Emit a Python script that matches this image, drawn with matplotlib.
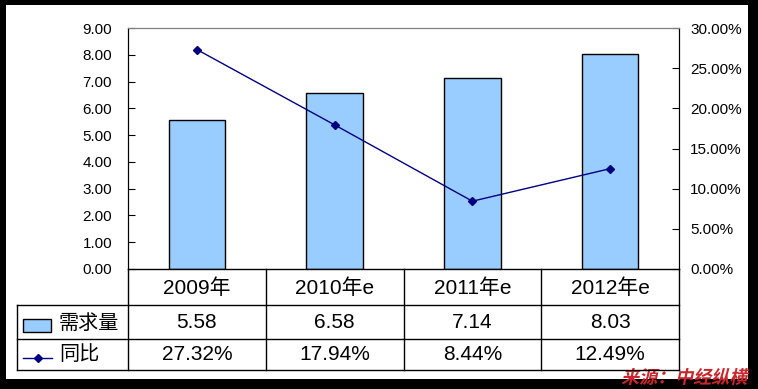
import matplotlib.pyplot as plt
from matplotlib.patches import Rectangle, PathPatch
from matplotlib.lines import Line2D
from matplotlib.textpath import TextPath
from matplotlib.font_manager import FontProperties
from matplotlib.transforms import blended_transform_factory, Affine2D

plt.rcParams['font.family'] = ['Liberation Sans', 'Noto Sans CJK SC']

# data
years = ['2009年', '2010年e', '2011年e', '2012年e']
demand = [5.58, 6.58, 7.14, 8.03]
growth = [27.32, 17.94, 8.44, 12.49]  # percent
demand_labels = ['5.58', '6.58', '7.14', '8.03']
growth_labels = ['27.32%', '17.94%', '8.44%', '12.49%']

W, H = 758, 389
fig = plt.figure(figsize=(W / 100, H / 100), dpi=100)
fig.patch.set_facecolor('black')

# white panel inside the black frame
fig.add_artist(Rectangle((6 / W, 1 - 379 / H), 742 / W, 374 / H,
                         transform=fig.transFigure, facecolor='white',
                         edgecolor='none', zorder=0))

# plot area in pixels
x0, x1, y_top, y_bot = 128, 679, 28, 269
ax = fig.add_axes([x0 / W, 1 - y_bot / H, (x1 - x0) / W, (y_bot - y_top) / H])
ax.set_facecolor('white')

xs = range(len(years))
ax.bar(xs, demand, width=0.41, color='#99CCFF', edgecolor='black', linewidth=1, zorder=2)
ax.set_xlim(-0.5, 3.5)
ax.set_ylim(0, 9)
ax.set_yticks([i for i in range(10)])
ax.set_yticklabels(['%.2f' % i for i in range(10)])
ax.set_xticks([])
ax.tick_params(axis='y', direction='in', length=5, pad=11.5, labelsize=11, colors='black')

ax2 = ax.twinx()
ax2.plot(xs, growth, color='#000080', linewidth=1, marker='D', markersize=4, zorder=3)
ax2.set_ylim(0, 30)
ax2.set_yticks([0, 5, 10, 15, 20, 25, 30])
ax2.set_yticklabels(['%.2f%%' % v for v in [0, 5, 10, 15, 20, 25, 30]])
ax2.tick_params(axis='y', direction='in', length=5, pad=8, labelsize=11)

for a in (ax, ax2):
    a.spines['top'].set_color('#808080')
    a.spines['bottom'].set_visible(False)
    a.spines['left'].set_color('black')
    a.spines['right'].set_color('black')

# data table under the plot: x in data coords, y in figure pixels
tr = blended_transform_factory(ax.transData, fig.transFigure)
figtr = fig.transFigure

def fy(py):
    return 1 - py / H

row_lines = [269, 305, 339, 370]
tbl_left = 17

# horizontal lines
fig.add_artist(Line2D([x0 / W, x1 / W], [fy(269), fy(269)], transform=figtr, color='black', lw=1))
for py in row_lines[1:]:
    fig.add_artist(Line2D([tbl_left / W, x1 / W], [fy(py), fy(py)], transform=figtr, color='black', lw=1))
# vertical lines
for xb in [-0.5, 0.5, 1.5, 2.5, 3.5]:
    fig.add_artist(Line2D([xb, xb], [fy(269), fy(370)], transform=tr, color='black', lw=1))
fig.add_artist(Line2D([tbl_left / W, tbl_left / W], [fy(305), fy(370)], transform=figtr, color='black', lw=1))

row_centers = [288, 323, 355]
for i in xs:
    fig.text(i, fy(row_centers[0]), years[i], transform=tr, ha='center', va='center', fontsize=15)
    fig.text(i, fy(row_centers[1]), demand_labels[i], transform=tr, ha='center', va='center', fontsize=15)
    fig.text(i, fy(row_centers[2]), growth_labels[i], transform=tr, ha='center', va='center', fontsize=15)

# legend keys inside the table
fig.add_artist(Rectangle((23 / W, fy(332)), 28 / W, 13 / H, transform=figtr,
                         facecolor='#99CCFF', edgecolor='black', lw=1))
fig.add_artist(Line2D([23 / W, 52 / W], [fy(358), fy(358)], transform=figtr, color='#000080', lw=1))
fig.add_artist(Line2D([37.5 / W], [fy(358)], transform=figtr, color='#000080', marker='D', markersize=4))
fig.text(59 / W, fy(323), '需求量', ha='left', va='center', fontsize=14.5, family=['Noto Sans CJK SC'])
fig.text(59 / W, fy(355), '同比', ha='left', va='center', fontsize=14.5, family=['Noto Sans CJK SC'])

# source note, slanted bold red text (pixel coordinates, origin bottom-left)
fp = FontProperties(family='Noto Sans CJK SC', weight='bold')
tp = TextPath((0, 0), '来源：中经纵横', size=18, prop=fp)
ext = tp.get_extents()
skew = Affine2D().skew_deg(12, 0).translate(750 - ext.x1 - 3, H - 385 - ext.y0)
fig.add_artist(PathPatch(skew.transform_path(tp), facecolor='#C8282D', edgecolor='none',
                         transform=None))

fig.savefig('out.png', dpi=100, facecolor=fig.get_facecolor())
